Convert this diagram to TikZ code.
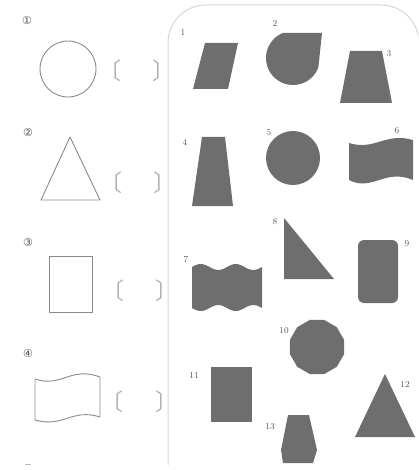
\documentclass[tikz,border=0pt]{standalone}
\usepackage{fontspec}
\newfontfamily\circfont{DejaVu Sans}
\newfontfamily\cjkfont{Noto Sans CJK SC}
\definecolor{shapegray}{HTML}{6E6E6E}
\definecolor{linegray}{HTML}{8A8A8A}
\definecolor{panelgray}{HTML}{D6D6D6}
\definecolor{labelgray}{HTML}{555555}
\tikzset{
  outline/.style   = {draw=linegray, line width=0.9pt, line join=round},
  darkfill/.style  = {fill=shapegray},
  numlabel/.style  = {font=\fontsize{9}{9}\selectfont, text=labelgray, inner sep=0pt},
  circnum/.style   = {font=\circfont\fontsize{11}{11}\selectfont, text=labelgray, inner sep=0pt},
  bracket/.style   = {font=\cjkfont\fontsize{23}{23}\selectfont, text=black!30, inner sep=0pt},
  panel/.style     = {draw=panelgray, line width=1pt, rounded corners=38pt},
}

\begin{document}
\begin{tikzpicture}[x=1pt, y=-1pt]
  \useasboundingbox (0,0) rectangle (418,470);
  \clip (0,0) rectangle (418,464);

  % --- left column: outlined shapes --------------------------------------
  \node[circnum] (q1) at (27,20) {①};
  \draw[outline] (68,69) circle (28);
  \node[bracket] (lb1) at (110,71) {〔};
  \node[bracket] (rb1) at (164,71) {〕};

  \node[circnum] (q2) at (28,132) {②};
  \draw[outline] (70,137) -- (100,200) -- (41,200) -- cycle;
  \node[bracket] (lb2) at (111,183) {〔};
  \node[bracket] (rb2) at (165,183) {〕};

  \node[circnum] (q3) at (28,242) {③};
  \draw[outline] (49,256) rectangle (92,312);
  \node[bracket] (lb3) at (113,291) {〔};
  \node[bracket] (rb3) at (167,291) {〕};

  \node[circnum] (q4) at (28,353) {④};
  \draw[outline] (35,379) .. controls (62,388) and (70,366) .. (100,377)
    -- (100,417) .. controls (72,408) and (64,428) .. (35,420) -- cycle;
  \node[bracket] (lb4) at (112,402) {〔};
  \node[bracket] (rb4) at (167,402) {〕};

  \node[circnum] (q5) at (28,468) {⑤};

  % --- right panel ----------------------------------------------------------
  \draw[panel] (168,480) -- (168,5) -- (419,5) -- (419,480);

  % row 1
  \fill[darkfill] (205,43) -- (238,43) -- (228,89) -- (193,89) -- cycle;
  \node[numlabel] (n1) at (183,33) {1};
  \fill[darkfill] plot[domain=111:340, samples=50]
    ({293+27*cos(\x)}, {58-27*sin(\x)}) -- (322,33) -- cycle;
  \node[numlabel] (n2) at (275,24) {2};
  \fill[darkfill] (350,51) -- (382,51) -- (392,103) -- (340,103) -- cycle;
  \node[numlabel] (n3) at (389,54) {3};

  % row 2
  \fill[darkfill] (202,137) -- (225,137) -- (233,206) -- (192,206) -- cycle;
  \node[numlabel] (n4) at (185,142) {4};
  \fill[darkfill] (293,158) circle (27);
  \node[numlabel] (n5) at (269,133) {5};
  \fill[darkfill] (349,143) .. controls (375,151) and (385,132) .. (413,140)
    -- (413,180) .. controls (385,168) and (372,192) .. (349,180) -- cycle;
  \node[numlabel] (n6) at (397,131) {6};

  % row 3
  \fill[darkfill] plot[domain=192:262, samples=60]
    (\x, {267-3*sin((\x-192)/35*360)})
    -- plot[domain=262:192, samples=60]
    (\x, {308+3*sin((\x-192)/35*360)}) -- cycle;
  \node[numlabel] (n7) at (186,260) {7};
  \fill[darkfill] (284,218) -- (334,279) -- (284,279) -- cycle;
  \node[numlabel] (n8) at (275,222) {8};
  \fill[darkfill, rounded corners=6pt] (358,240) rectangle (398,303);
  \node[numlabel] (n9) at (407,244) {9};

  % row 4
  \fill[darkfill] plot[samples at={15,45,...,345}]
    ({317+28*cos(\x)}, {347-28*sin(\x)}) -- cycle;
  \node[numlabel] (n10) at (284,331) {10};
  \fill[darkfill] (211,367) rectangle (252,422);
  \node[numlabel] (n11) at (194,375) {11};
  \fill[darkfill] (385,374) -- (415,437) -- (355,437) -- cycle;
  \node[numlabel] (n12) at (405,384) {12};
  \fill[darkfill] (288,415) -- (309,415) -- (317,450) -- (313,463)
    -- (283,463) -- (281,450) -- cycle;
  \node[numlabel] (n13) at (270,427) {13};
\end{tikzpicture}
\end{document}
